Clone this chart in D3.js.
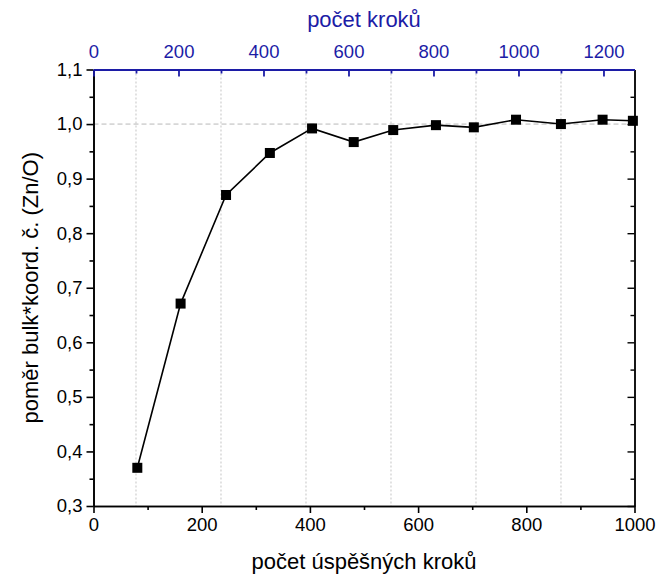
<!DOCTYPE html>
<html>
<head>
<meta charset="utf-8">
<script src="https://cdn.jsdelivr.net/npm/d3@7"></script>
<style>
  html, body { margin: 0; padding: 0; background: #fff; }
  svg { display: block; font-family: "Liberation Sans", Arial, sans-serif; }
</style>
</head>
<body>
<svg id="chart" width="659" height="576"></svg>
<script>
// Successful steps (bottom axis) and bulk coordination ratio Zn/O
const successfulSteps = [81, 161, 245, 326, 404, 481, 554, 633, 703, 781, 864, 941, 997];
const ratioValues = [0.370, 0.671, 0.870, 0.947, 0.992, 0.967, 0.989, 0.998, 0.994, 1.008, 1.000, 1.008, 1.006];

// Tick values
const bottomMajor = [0, 200, 400, 600, 800, 1000];
const bottomMinor = [100, 300, 500, 700, 900];
const leftMajor = [0.3, 0.4, 0.5, 0.6, 0.7, 0.8, 0.9, 1.0, 1.1];
const leftMinor = [0.35, 0.45, 0.55, 0.65, 0.75, 0.85, 0.95, 1.05];
const topMajor = [0, 200, 400, 600, 800, 1000, 1200];
const topMinor = [100, 300, 500, 700, 900, 1100];

const xTitle = "počet úspěšných kroků";
const yTitle = "poměr bulk*koord. č. (Zn/O)";
const topTitle = "počet kroků";

const blue = "#1c1ca6";
const margin = { left: 93.5, right: 634.5, top: 69.5, bottom: 506 };
const tickFont = "18.5px";
const titleFont = "22px";

const svg = d3.select("#chart");

const x = d3.scaleLinear().domain([0, 1000]).range([margin.left, margin.right]);
const xTop = d3.scaleLinear().domain([0, 1273]).range([margin.left, margin.right]);
const y = d3.scaleLinear().domain([0.3, 1.1]).range([margin.bottom, margin.top]);

const comma = v => d3.format(".1f")(v).replace(".", ",");

// Grid: vertical dotted lines at the top-axis minor ticks, dashed line at 1.0
svg.append("g").selectAll("line").data(topMinor).join("line")
  .attr("x1", d => xTop(d)).attr("x2", d => xTop(d))
  .attr("y1", margin.top).attr("y2", margin.bottom)
  .attr("stroke", "#c4c4c4").attr("stroke-width", 1)
  .attr("stroke-dasharray", "2,2");

svg.append("line")
  .attr("x1", margin.left).attr("x2", margin.right)
  .attr("y1", y(1.0)).attr("y2", y(1.0))
  .attr("stroke", "#b8b8b8").attr("stroke-width", 1)
  .attr("stroke-dasharray", "5,3");

function styleAxis(g, color, width) {
  g.select(".domain").attr("stroke", color).attr("stroke-width", width);
  g.selectAll(".tick line").attr("stroke", color).attr("stroke-width", width);
  g.selectAll(".tick text").attr("fill", color)
    .style("font-size", tickFont).style("font-family", "'Liberation Sans', Arial, sans-serif");
}

// Bottom axis
const gBottomMinor = svg.append("g").attr("transform", `translate(0,${margin.bottom})`)
  .call(d3.axisBottom(x).tickValues(bottomMinor).tickSize(4).tickFormat("").tickSizeOuter(0));
styleAxis(gBottomMinor, "#000", 1.6);
const gBottom = svg.append("g").attr("transform", `translate(0,${margin.bottom})`)
  .call(d3.axisBottom(x).tickValues(bottomMajor).tickSize(7).tickPadding(5).tickFormat(d3.format("d")).tickSizeOuter(0));
styleAxis(gBottom, "#000", 1.6);

// Left axis
const gLeftMinor = svg.append("g").attr("transform", `translate(${margin.left},0)`)
  .call(d3.axisLeft(y).tickValues(leftMinor).tickSize(4).tickFormat("").tickSizeOuter(0));
styleAxis(gLeftMinor, "#000", 1.6);
const gLeft = svg.append("g").attr("transform", `translate(${margin.left},0)`)
  .call(d3.axisLeft(y).tickValues(leftMajor).tickSize(7).tickPadding(4).tickFormat(comma).tickSizeOuter(0));
styleAxis(gLeft, "#000", 1.6);

// Right axis (ticks inward, no labels)
const gRightMinor = svg.append("g").attr("transform", `translate(${margin.right},0)`)
  .call(d3.axisRight(y).tickValues(leftMinor).tickSize(-4).tickFormat("").tickSizeOuter(0));
styleAxis(gRightMinor, "#000", 1.4);
const gRight = svg.append("g").attr("transform", `translate(${margin.right},0)`)
  .call(d3.axisRight(y).tickValues(leftMajor).tickSize(-7).tickFormat("").tickSizeOuter(0));
styleAxis(gRight, "#000", 1.4);

// Top axis (blue, ticks inward)
const gTopMinor = svg.append("g").attr("transform", `translate(0,${margin.top})`)
  .call(d3.axisTop(xTop).tickValues(topMinor).tickSize(-4).tickFormat("").tickSizeOuter(0));
styleAxis(gTopMinor, blue, 1.8);
const gTop = svg.append("g").attr("transform", `translate(0,${margin.top})`)
  .call(d3.axisTop(xTop).tickValues(topMajor).tickSize(-7).tickPadding(12).tickFormat(d3.format("d")).tickSizeOuter(0));
styleAxis(gTop, blue, 1.8);

// Axis titles
svg.append("text")
  .attr("x", (margin.left + margin.right) / 2).attr("y", 569)
  .attr("text-anchor", "middle").attr("fill", "#000")
  .style("font-size", titleFont).text(xTitle);

svg.append("text")
  .attr("x", (margin.left + margin.right) / 2).attr("y", 27)
  .attr("text-anchor", "middle").attr("fill", blue)
  .style("font-size", titleFont).text(topTitle);

svg.append("text")
  .attr("transform", `translate(38,${(margin.top + margin.bottom) / 2}) rotate(-90)`)
  .attr("text-anchor", "middle").attr("fill", "#000")
  .style("font-size", titleFont).text(yTitle);

// Data line and square markers
const pts = successfulSteps.map((s, i) => [s, ratioValues[i]]);
svg.append("path").datum(pts)
  .attr("fill", "none").attr("stroke", "#000").attr("stroke-width", 1.6)
  .attr("d", d3.line().x(d => x(d[0])).y(d => y(d[1])));

const sq = 10;
svg.append("g").selectAll("rect").data(pts).join("rect")
  .attr("x", d => x(d[0]) - sq / 2).attr("y", d => y(d[1]) - sq / 2)
  .attr("width", sq).attr("height", sq)
  .attr("fill", "#000");
</script>
</body>
</html>
